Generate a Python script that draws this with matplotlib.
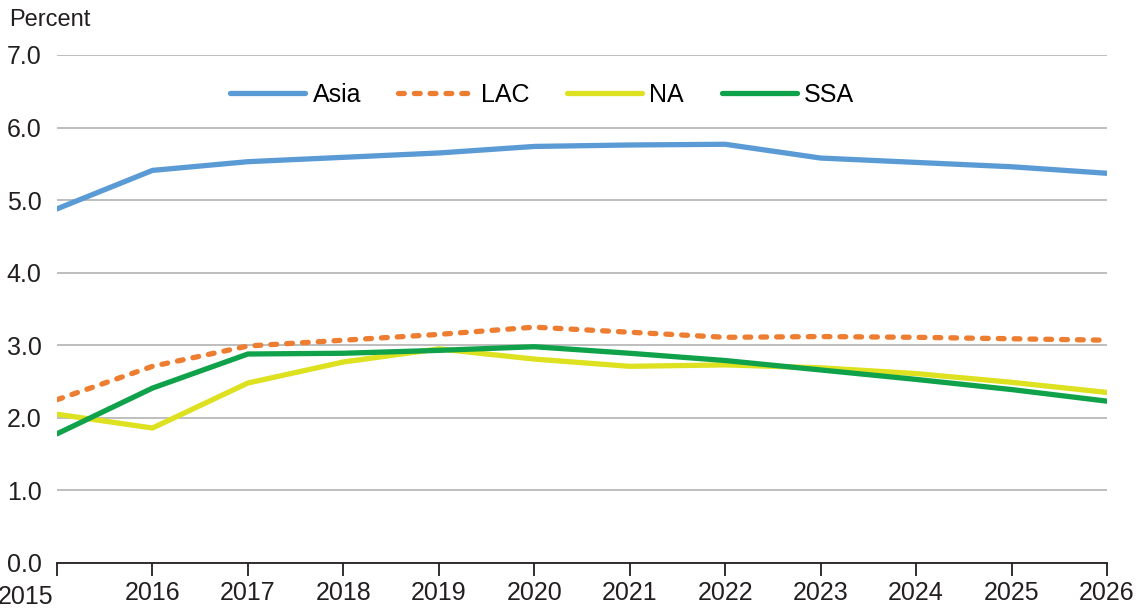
import numpy as np
import matplotlib
matplotlib.use("Agg")
import matplotlib.pyplot as plt
import matplotlib.transforms as mtransforms

plt.rcParams['font.family'] = ['Liberation Sans', 'DejaVu Sans']

years = [2015, 2016, 2017, 2018, 2019, 2020, 2021, 2022, 2023, 2024, 2025, 2026]
asia = [4.88, 5.41, 5.53, 5.59, 5.65, 5.74, 5.76, 5.77, 5.58, 5.52, 5.46, 5.37]
lac = [2.25, 2.71, 2.99, 3.07, 3.15, 3.25, 3.18, 3.11, 3.12, 3.11, 3.09, 3.07]
na = [2.05, 1.86, 2.48, 2.77, 2.95, 2.81, 2.71, 2.73, 2.69, 2.61, 2.49, 2.35]
ssa = [1.78, 2.41, 2.88, 2.89, 2.93, 2.98, 2.89, 2.79, 2.66, 2.53, 2.39, 2.23]
yticks = [0, 1, 2, 3, 4, 5, 6, 7]

fig = plt.figure(figsize=(11.41, 6.09), dpi=100)
ax = fig.add_axes([57/1141, 46/609, 1050/1141, 508/609])

lw = 3.8
ax.plot(years, asia, color='#5B9BD5', lw=lw, solid_capstyle='round', label='Asia')
ax.plot(years, lac, color='#ED7D31', lw=lw, dashes=(1.1, 1.9), dash_capstyle='round', label='LAC')
ax.plot(years, na, color='#DDE11F', lw=lw, solid_capstyle='round', label='NA')
ax.plot(years, ssa, color='#0FA24A', lw=lw, solid_capstyle='round', label='SSA')

ax.set_xlim(2015, 2026)
ax.set_ylim(0, 7)
ax.set_yticks(yticks)
ax.set_yticklabels([f"{v:.1f}" for v in yticks])
ax.set_xticks(years)
ax.set_xticklabels([str(y) for y in years])

ax.grid(axis='y', color='#b3b3b3', lw=1.2)
ax.set_axisbelow(True)
for s in ['top', 'right', 'left']:
    ax.spines[s].set_visible(False)
ax.spines['bottom'].set_color('#231f20')
ax.spines['bottom'].set_linewidth(1.3)

ax.tick_params(axis='y', length=0, labelsize=18, colors='#231f20', pad=11)
ax.tick_params(axis='x', direction='out', length=9, width=1.3, colors='#231f20',
               labelsize=18, pad=4)

# first year label sits lower and to the left
lbl = ax.get_xticklabels()[0]
lbl.set_transform(lbl.get_transform() + mtransforms.ScaledTranslation(-31/100, -4/100, fig.dpi_scale_trans))

fig.text(9/1141, 1 - 20/609, 'Percent', fontsize=17, color='#231f20', va='center', ha='left')

ax.legend(loc='center', bbox_to_anchor=(0.462, 0.921), ncol=4, frameon=False,
          fontsize=18, handlelength=3.0, handletextpad=0.3, columnspacing=1.5)

fig.savefig('out.png', dpi=100)
